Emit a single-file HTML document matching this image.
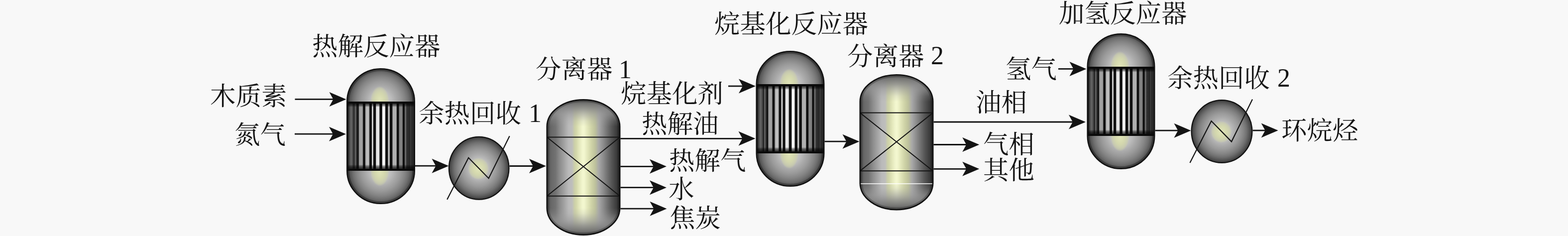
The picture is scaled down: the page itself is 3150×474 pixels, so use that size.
<!DOCTYPE html><html><head><meta charset="utf-8"><title>Process flow</title><style>html,body{margin:0;padding:0;background:#f8f8f8;font-family:"Liberation Sans",sans-serif}svg{display:block}</style></head><body><svg width="3150" height="474" viewBox="0 0 3150 474"><rect width="3150" height="474" fill="#f8f8f8"/><defs><radialGradient id="rg" cx="50%" cy="50%" r="50%"><stop offset="0%" stop-color="#f8fcd4"/><stop offset="4%" stop-color="#f8fcd4"/><stop offset="11%" stop-color="#e4e8bc"/><stop offset="24%" stop-color="#d0d4a8"/><stop offset="31%" stop-color="#ccd0a8"/><stop offset="36%" stop-color="#bebebc"/><stop offset="40%" stop-color="#bcbcbc"/><stop offset="48.5%" stop-color="#a8a8a8"/><stop offset="59.5%" stop-color="#909090"/><stop offset="70%" stop-color="#7e7e7e"/><stop offset="80%" stop-color="#686868"/><stop offset="90%" stop-color="#525252"/><stop offset="97%" stop-color="#3e3e3e"/><stop offset="100%" stop-color="#2e2e2e"/></radialGradient><linearGradient id="ot" x1="0" y1="1" x2="0" y2="0"><stop offset="0" stop-color="#a0a0a0" stop-opacity="0"/><stop offset="0.2" stop-color="#a0a0a0" stop-opacity="0.18"/><stop offset="0.45" stop-color="#989898" stop-opacity="0.58"/><stop offset="0.65" stop-color="#888888" stop-opacity="0.84"/><stop offset="0.85" stop-color="#707070" stop-opacity="0.95"/><stop offset="1" stop-color="#505050" stop-opacity="1"/></linearGradient><linearGradient id="ob" x1="0" y1="0" x2="0" y2="1"><stop offset="0" stop-color="#a0a0a0" stop-opacity="0"/><stop offset="0.2" stop-color="#a0a0a0" stop-opacity="0.18"/><stop offset="0.45" stop-color="#989898" stop-opacity="0.58"/><stop offset="0.65" stop-color="#888888" stop-opacity="0.84"/><stop offset="0.85" stop-color="#707070" stop-opacity="0.95"/><stop offset="1" stop-color="#505050" stop-opacity="1"/></linearGradient><linearGradient id="lg" x1="0" y1="0" x2="1" y2="0"><stop offset="0.0000" stop-color="#444444"/><stop offset="0.0116" stop-color="#505050"/><stop offset="0.0591" stop-color="#686868"/><stop offset="0.1169" stop-color="#727272"/><stop offset="0.1747" stop-color="#8c8c8c"/><stop offset="0.2291" stop-color="#a0a0a0"/><stop offset="0.2971" stop-color="#bababa"/><stop offset="0.3447" stop-color="#bebebc"/><stop offset="0.3787" stop-color="#ccd0a8"/><stop offset="0.3990" stop-color="#d2d6aa"/><stop offset="0.4432" stop-color="#e4e8bc"/><stop offset="0.4806" stop-color="#f0f4cc"/><stop offset="0.4997" stop-color="#f4f8d0"/><stop offset="0.5180" stop-color="#f0f4cc"/><stop offset="0.5527" stop-color="#e4e8bc"/><stop offset="0.6071" stop-color="#d0d4a8"/><stop offset="0.6615" stop-color="#bec29c"/><stop offset="0.7118" stop-color="#a8a8a8"/><stop offset="0.7729" stop-color="#8c8c8c"/><stop offset="0.8307" stop-color="#707070"/><stop offset="0.8817" stop-color="#585858"/><stop offset="0.9327" stop-color="#444444"/><stop offset="0.9735" stop-color="#343434"/><stop offset="1.0000" stop-color="#2a2a2a"/></linearGradient><linearGradient id="tg" x1="0" y1="0" x2="1" y2="0"><stop offset="0.0000" stop-color="#0a0a0a"/><stop offset="0.0196" stop-color="#141414"/><stop offset="0.0436" stop-color="#484848"/><stop offset="0.0704" stop-color="#686868"/><stop offset="0.0944" stop-color="#444444"/><stop offset="0.1162" stop-color="#1c1c1c"/><stop offset="0.1220" stop-color="#5a5a5a"/><stop offset="0.1278" stop-color="#707070"/><stop offset="0.1380" stop-color="#4a4a4a"/><stop offset="0.1598" stop-color="#161616"/><stop offset="0.1743" stop-color="#0c0c0c"/><stop offset="0.1830" stop-color="#8c8c8c"/><stop offset="0.1961" stop-color="#a2a2a2"/><stop offset="0.2251" stop-color="#a2a2a2"/><stop offset="0.2367" stop-color="#8a8a8a"/><stop offset="0.2440" stop-color="#101010"/><stop offset="0.2702" stop-color="#101010"/><stop offset="0.2789" stop-color="#a8a8a8"/><stop offset="0.3014" stop-color="#bcbcbc"/><stop offset="0.3050" stop-color="#d4d4d4"/><stop offset="0.3094" stop-color="#bcbcbc"/><stop offset="0.3282" stop-color="#b4b4b4"/><stop offset="0.3384" stop-color="#101010"/><stop offset="0.3660" stop-color="#101010"/><stop offset="0.3733" stop-color="#dcdcdc"/><stop offset="0.3863" stop-color="#d0d0d0"/><stop offset="0.3951" stop-color="#101010"/><stop offset="0.4241" stop-color="#101010"/><stop offset="0.4343" stop-color="#e8e8e8"/><stop offset="0.4749" stop-color="#e4e4e4"/><stop offset="0.4851" stop-color="#101010"/><stop offset="0.5171" stop-color="#101010"/><stop offset="0.5258" stop-color="#ffffff"/><stop offset="0.5418" stop-color="#ffffff"/><stop offset="0.5454" stop-color="#c8c8c8"/><stop offset="0.5490" stop-color="#ffffff"/><stop offset="0.5606" stop-color="#f4f4f4"/><stop offset="0.5694" stop-color="#101010"/><stop offset="0.6013" stop-color="#101010"/><stop offset="0.6086" stop-color="#c4c4c4"/><stop offset="0.6260" stop-color="#c0c0c0"/><stop offset="0.6333" stop-color="#101010"/><stop offset="0.6652" stop-color="#101010"/><stop offset="0.6739" stop-color="#b0b0b0"/><stop offset="0.7262" stop-color="#b0b0b0"/><stop offset="0.7349" stop-color="#101010"/><stop offset="0.7611" stop-color="#101010"/><stop offset="0.7698" stop-color="#848484"/><stop offset="0.8134" stop-color="#808080"/><stop offset="0.8221" stop-color="#101010"/><stop offset="0.8453" stop-color="#101010"/><stop offset="0.8526" stop-color="#787878"/><stop offset="0.8642" stop-color="#606060"/><stop offset="0.8787" stop-color="#303030"/><stop offset="0.9267" stop-color="#262626"/><stop offset="0.9339" stop-color="#4c4c4c"/><stop offset="0.9412" stop-color="#2e2e2e"/><stop offset="0.9804" stop-color="#262626"/><stop offset="1.0000" stop-color="#0a0a0a"/></linearGradient><linearGradient id="se" x1="0" y1="0" x2="0" y2="1"><stop offset="0" stop-color="#000" stop-opacity="0.75"/><stop offset="0.6" stop-color="#000" stop-opacity="0.4"/><stop offset="1" stop-color="#000" stop-opacity="0"/></linearGradient><linearGradient id="sf" x1="0" y1="1" x2="0" y2="0"><stop offset="0" stop-color="#000" stop-opacity="0.75"/><stop offset="0.6" stop-color="#000" stop-opacity="0.4"/><stop offset="1" stop-color="#000" stop-opacity="0"/></linearGradient><radialGradient id="yg" cx="50%" cy="50%" r="50%"><stop offset="0" stop-color="#e2e6ba"/><stop offset="0.55" stop-color="#d4d8ac" stop-opacity="0.95"/><stop offset="0.85" stop-color="#d0d4a8" stop-opacity="0.55"/><stop offset="1" stop-color="#d0d4a8" stop-opacity="0"/></radialGradient><radialGradient id="rg2" cx="50%" cy="50%" r="50%"><stop offset="0%" stop-color="#cccccc"/><stop offset="20%" stop-color="#c6c6c6"/><stop offset="32%" stop-color="#bcbcbc"/><stop offset="45%" stop-color="#aaaaaa"/><stop offset="58%" stop-color="#9a9a9a"/><stop offset="72%" stop-color="#848484"/><stop offset="82%" stop-color="#707070"/><stop offset="92%" stop-color="#545454"/><stop offset="100%" stop-color="#363636"/></radialGradient></defs><clipPath id="c697"><path d="M697.2 204 A67.8 65.8 0 0 1 832.8 204 L832.8 343 A67.8 65.8 0 0 1 697.2 343 Z"/></clipPath><g clip-path="url(#c697)"><ellipse cx="765" cy="204" rx="67.8" ry="69.7" fill="url(#rg2)"/><ellipse cx="765" cy="343" rx="67.8" ry="69.7" fill="url(#rg2)"/><ellipse cx="763" cy="204" rx="19" ry="31" fill="url(#yg)"/><ellipse cx="763" cy="343" rx="19" ry="31" fill="url(#yg)"/><path d="M697.2 204 A67.8 65.8 0 0 1 832.8 204 L832.8 343 A67.8 65.8 0 0 1 697.2 343 Z" fill="none" stroke="#000" stroke-opacity="0.28" stroke-width="9"/><rect x="696" y="204" width="138" height="139" fill="url(#tg)" /><rect x="696" y="208" width="138" height="7" fill="url(#se)"/><rect x="696" y="330.5" width="138" height="8" fill="url(#sf)"/><rect x="696" y="204" width="138" height="4" fill="#0a0a0a"/><rect x="696" y="338.5" width="138" height="4.5" fill="#0a0a0a"/></g><path d="M697.2 204 A67.8 65.8 0 0 1 832.8 204 L832.8 343 A67.8 65.8 0 0 1 697.2 343 Z" fill="none" stroke="#101010" stroke-width="2.4"/>
<clipPath id="c1519"><path d="M1519.7 169 A67.8 65.8 0 0 1 1655.3 169 L1655.3 308 A67.8 65.8 0 0 1 1519.7 308 Z"/></clipPath><g clip-path="url(#c1519)"><ellipse cx="1587.5" cy="169" rx="67.8" ry="69.7" fill="url(#rg2)"/><ellipse cx="1587.5" cy="308" rx="67.8" ry="69.7" fill="url(#rg2)"/><ellipse cx="1585.5" cy="169" rx="19" ry="31" fill="url(#yg)"/><ellipse cx="1585.5" cy="308" rx="19" ry="31" fill="url(#yg)"/><path d="M1519.7 169 A67.8 65.8 0 0 1 1655.3 169 L1655.3 308 A67.8 65.8 0 0 1 1519.7 308 Z" fill="none" stroke="#000" stroke-opacity="0.28" stroke-width="9"/><rect x="1518.5" y="169" width="138" height="139" fill="url(#tg)" /><rect x="1518.5" y="173" width="138" height="7" fill="url(#se)"/><rect x="1518.5" y="295.5" width="138" height="8" fill="url(#sf)"/><rect x="1518.5" y="169" width="138" height="4" fill="#0a0a0a"/><rect x="1518.5" y="303.5" width="138" height="4.5" fill="#0a0a0a"/></g><path d="M1519.7 169 A67.8 65.8 0 0 1 1655.3 169 L1655.3 308 A67.8 65.8 0 0 1 1519.7 308 Z" fill="none" stroke="#101010" stroke-width="2.4"/>
<clipPath id="c2184"><path d="M2184.7 134 A67.3 65.8 0 0 1 2319.3 134 L2319.3 273 A67.3 65.8 0 0 1 2184.7 273 Z"/></clipPath><g clip-path="url(#c2184)"><ellipse cx="2252" cy="134" rx="67.3" ry="69.7" fill="url(#rg2)"/><ellipse cx="2252" cy="273" rx="67.3" ry="69.7" fill="url(#rg2)"/><ellipse cx="2250" cy="134" rx="19" ry="31" fill="url(#yg)"/><ellipse cx="2250" cy="273" rx="19" ry="31" fill="url(#yg)"/><path d="M2184.7 134 A67.3 65.8 0 0 1 2319.3 134 L2319.3 273 A67.3 65.8 0 0 1 2184.7 273 Z" fill="none" stroke="#000" stroke-opacity="0.28" stroke-width="9"/><rect x="2183.5" y="134" width="137" height="139" fill="url(#tg)" /><rect x="2183.5" y="138" width="137" height="7" fill="url(#se)"/><rect x="2183.5" y="260.5" width="137" height="8" fill="url(#sf)"/><rect x="2183.5" y="134" width="137" height="4" fill="#0a0a0a"/><rect x="2183.5" y="268.5" width="137" height="4.5" fill="#0a0a0a"/></g><path d="M2184.7 134 A67.3 65.8 0 0 1 2319.3 134 L2319.3 273 A67.3 65.8 0 0 1 2184.7 273 Z" fill="none" stroke="#101010" stroke-width="2.4"/>
<clipPath id="v1098"><path d="M1098.8 254.3 A73.2 54 0 0 1 1245.2 254.3 L1245.2 417.7 A73.2 54 0 0 1 1098.8 417.7 Z"/></clipPath><g clip-path="url(#v1098)"><rect x="1098.8" y="200.3" width="146.4" height="271.4" fill="url(#lg)"/><rect x="1098.8" y="200.3" width="146.4" height="54" fill="url(#ot)"/><rect x="1098.8" y="417.7" width="146.4" height="54" fill="url(#ob)"/><path d="M1098.8 254.3 A73.2 54 0 0 1 1245.2 254.3 L1245.2 417.7 A73.2 54 0 0 1 1098.8 417.7 Z" fill="none" stroke="#000" stroke-opacity="0.22" stroke-width="9"/><path d="M1098.8 275.5H1245.2M1098.8 393.7H1245.2M1098.8 275.5L1245.2 393.7M1245.2 275.5L1098.8 393.7" stroke="#141414" stroke-width="2" fill="none"/></g><path d="M1098.8 254.3 A73.2 54 0 0 1 1245.2 254.3 L1245.2 417.7 A73.2 54 0 0 1 1098.8 417.7 Z" fill="none" stroke="#101010" stroke-width="2.6"/>
<clipPath id="v1727"><path d="M1727.8 204.3 A73.2 54 0 0 1 1874.2 204.3 L1874.2 367.2 A73.2 54 0 0 1 1727.8 367.2 Z"/></clipPath><g clip-path="url(#v1727)"><rect x="1727.8" y="150.3" width="146.4" height="270.9" fill="url(#lg)"/><rect x="1727.8" y="150.3" width="146.4" height="54" fill="url(#ot)"/><rect x="1727.8" y="367.2" width="146.4" height="54" fill="url(#ob)"/><path d="M1727.8 204.3 A73.2 54 0 0 1 1874.2 204.3 L1874.2 367.2 A73.2 54 0 0 1 1727.8 367.2 Z" fill="none" stroke="#000" stroke-opacity="0.22" stroke-width="9"/><path d="M1727.8 226.6H1874.2M1727.8 343.2H1874.2M1727.8 226.6L1874.2 343.2M1874.2 226.6L1727.8 343.2" stroke="#141414" stroke-width="2" fill="none"/><path d="M1728.8 369H1873.2" stroke="#fff" stroke-width="1.6" fill="none"/></g><path d="M1727.8 204.3 A73.2 54 0 0 1 1874.2 204.3 L1874.2 367.2 A73.2 54 0 0 1 1727.8 367.2 Z" fill="none" stroke="#101010" stroke-width="2.6"/>
<ellipse cx="962.2" cy="337.8" rx="60.3" ry="62.9" fill="url(#rg2)" stroke="#101010" stroke-width="2.2"/><ellipse cx="961.2" cy="338.8" rx="21" ry="22" fill="url(#yg)"/><path d="M898.2 400.8L941.2 316.8L981.7 358.2L1023.7 273.2" fill="none" stroke="#141414" stroke-width="2.2" stroke-linejoin="miter"/>
<ellipse cx="2454.5" cy="264" rx="60.9" ry="62.9" fill="url(#rg2)" stroke="#101010" stroke-width="2.2"/><ellipse cx="2453.5" cy="265" rx="21" ry="22" fill="url(#yg)"/><path d="M2390.5 327L2433.5 243L2474 284.5L2516 199.5" fill="none" stroke="#141414" stroke-width="2.2" stroke-linejoin="miter"/>
<path d="M592.5 199.4H670.5" stroke="#141414" stroke-width="2.8" fill="none"/><path d="M695.5 199.4L661.5 184.9L669.5 199.4L661.5 213.9Z" fill="#141414"/>
<path d="M592 269.2H670" stroke="#141414" stroke-width="2.8" fill="none"/><path d="M695 269.2L661 254.7L669 269.2L661 283.7Z" fill="#141414"/>
<path d="M834 333.2H876.5" stroke="#141414" stroke-width="2.8" fill="none"/><path d="M901.5 333.2L867.5 318.7L875.5 333.2L867.5 347.7Z" fill="#141414"/>
<path d="M1023.5 333.5H1072" stroke="#141414" stroke-width="2.8" fill="none"/><path d="M1097 333.5L1063 319L1071 333.5L1063 348Z" fill="#141414"/>
<path d="M1463 173H1493" stroke="#141414" stroke-width="2.8" fill="none"/><path d="M1518 173L1484 158.5L1492 173L1484 187.5Z" fill="#141414"/>
<path d="M1246.5 278.3H1492.5" stroke="#141414" stroke-width="2.8" fill="none"/><path d="M1517.5 278.3L1483.5 263.8L1491.5 278.3L1483.5 292.8Z" fill="#141414"/>
<path d="M1246.5 334.3H1314" stroke="#141414" stroke-width="2.8" fill="none"/><path d="M1339 334.3L1305 319.8L1313 334.3L1305 348.8Z" fill="#141414"/>
<path d="M1246.5 376.7H1314" stroke="#141414" stroke-width="2.8" fill="none"/><path d="M1339 376.7L1305 362.2L1313 376.7L1305 391.2Z" fill="#141414"/>
<path d="M1246.5 419.2H1314.5" stroke="#141414" stroke-width="2.8" fill="none"/><path d="M1339.5 419.2L1305.5 404.7L1313.5 419.2L1305.5 433.7Z" fill="#141414"/>
<path d="M1656.5 284.2H1701.5" stroke="#141414" stroke-width="2.8" fill="none"/><path d="M1726.5 284.2L1692.5 269.7L1700.5 284.2L1692.5 298.7Z" fill="#141414"/>
<path d="M1875.5 245H2156" stroke="#141414" stroke-width="2.8" fill="none"/><path d="M2181 245L2147 230.5L2155 245L2147 259.5Z" fill="#141414"/>
<path d="M1875.5 290.5H1942.3" stroke="#141414" stroke-width="2.8" fill="none"/><path d="M1967.3 290.5L1933.3 276L1941.3 290.5L1933.3 305Z" fill="#141414"/>
<path d="M1875.5 339.3H1942.3" stroke="#141414" stroke-width="2.8" fill="none"/><path d="M1967.3 339.3L1933.3 324.8L1941.3 339.3L1933.3 353.8Z" fill="#141414"/>
<path d="M2126 138.4H2157.5" stroke="#141414" stroke-width="2.8" fill="none"/><path d="M2182.5 138.4L2148.5 123.9L2156.5 138.4L2148.5 152.9Z" fill="#141414"/>
<path d="M2320.5 262.2H2367.5" stroke="#141414" stroke-width="2.8" fill="none"/><path d="M2392.5 262.2L2358.5 247.7L2366.5 262.2L2358.5 276.7Z" fill="#141414"/>
<path d="M2516.5 262H2542.7" stroke="#141414" stroke-width="2.8" fill="none"/><path d="M2567.7 262L2533.7 247.5L2541.7 262L2533.7 276.5Z" fill="#141414"/>
<g font-family="&quot;Liberation Serif&quot;, &quot;Noto Serif CJK SC&quot;, serif" font-size="51.5" fill="#141414">
<text x="627" y="111">热解反应器</text>
<text x="422" y="211">木质素</text>
<text x="471" y="289">氮气</text>
<text x="841" y="246">余热回收</text>
<text x="1062" y="245" font-size="52">1</text>
<text x="1076" y="157">分离器</text>
<text x="1243" y="156.7" font-size="52">1</text>
<text x="1247" y="206">烷基化剂</text>
<text x="1289" y="267">热解油</text>
<text x="1344" y="341">热解气</text>
<text x="1343" y="398">水</text>
<text x="1345" y="456">焦炭</text>
<text x="1435" y="66">烷基化反应器</text>
<text x="1702" y="131">分离器</text>
<text x="1870" y="129.2" font-size="52">2</text>
<text x="2020" y="157">氢气</text>
<text x="1960" y="224">油相</text>
<text x="1975" y="308">气相</text>
<text x="1975" y="360">其他</text>
<text x="2127" y="45">加氢反应器</text>
<text x="2345" y="175">余热回收</text>
<text x="2566" y="174.2" font-size="52">2</text>
<text x="2574" y="280">环烷烃</text>
</g>
</svg></body></html>
